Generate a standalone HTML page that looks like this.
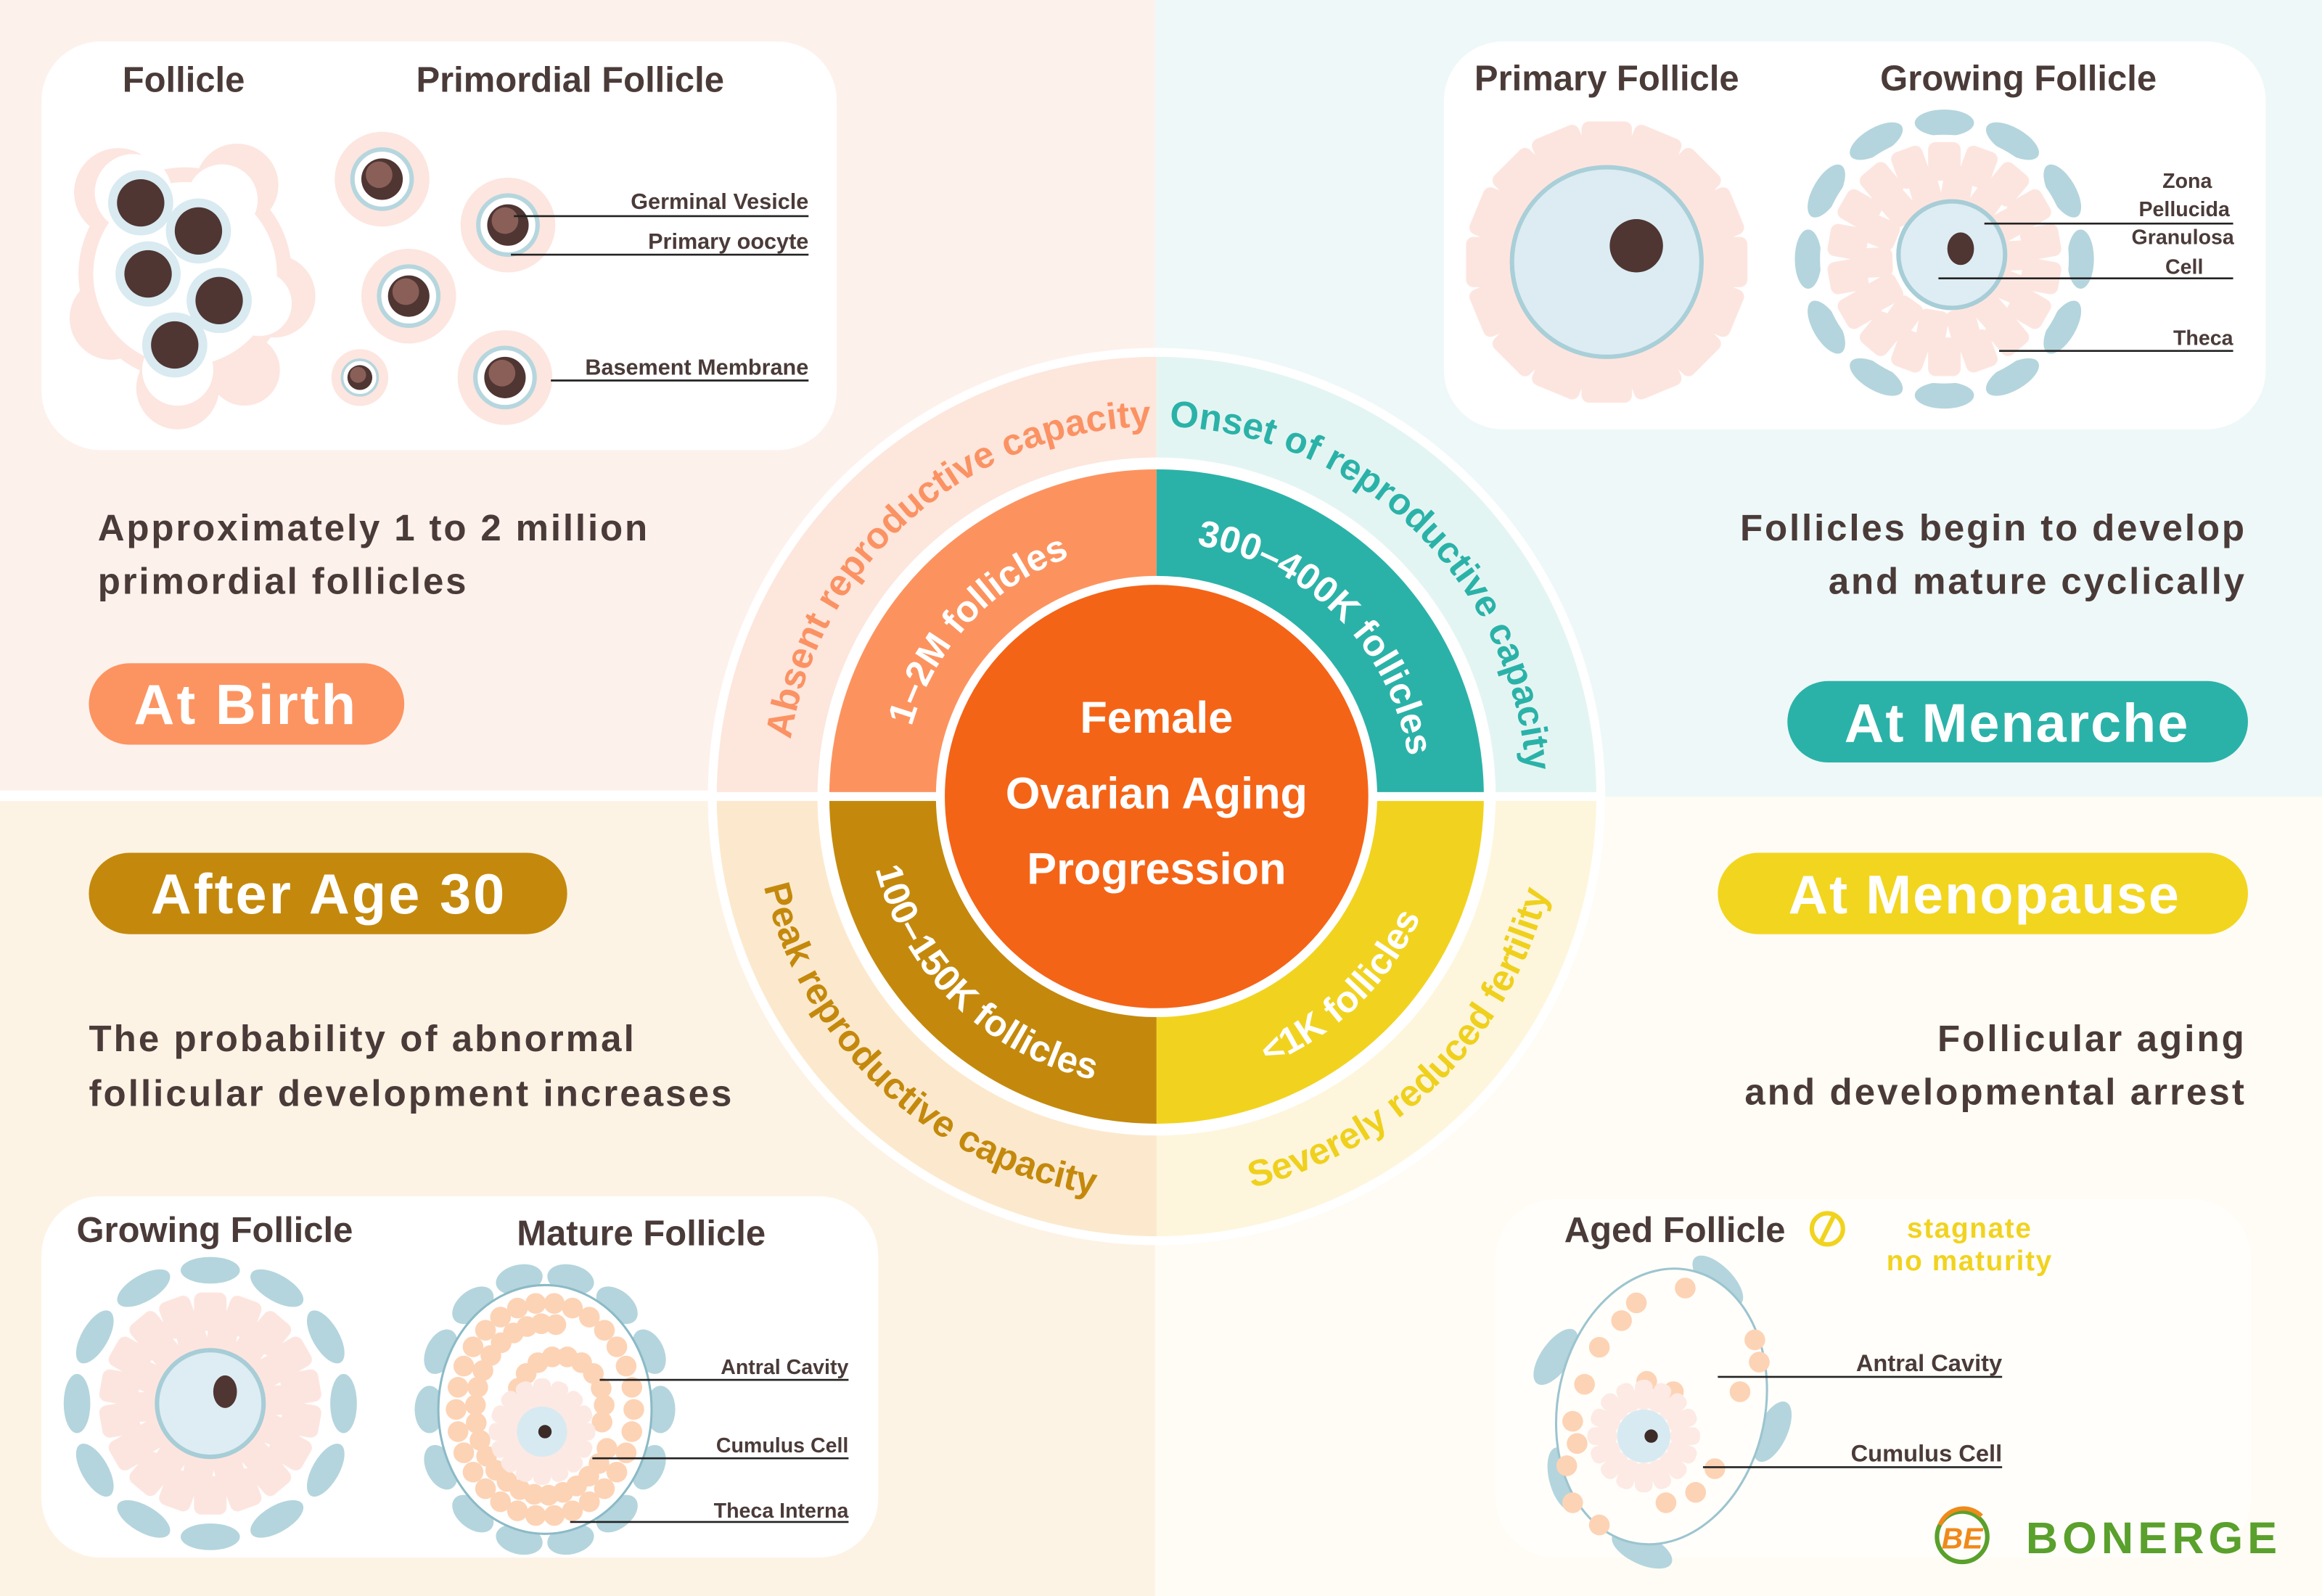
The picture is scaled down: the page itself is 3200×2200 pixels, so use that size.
<!DOCTYPE html>
<html><head><meta charset="utf-8">
<style>
html,body{margin:0;padding:0;background:#fff;}
svg{display:block;}
.t{font-family:"Liberation Sans",sans-serif;font-weight:bold;}
.n{font-family:"Liberation Sans Narrow","Liberation Sans",sans-serif;font-weight:bold;fill:#4a3b39;}
</style></head><body>
<svg id="s" width="3200" height="2200" viewBox="0 0 1568 1078" preserveAspectRatio="none" xmlns="http://www.w3.org/2000/svg">
<rect x="0" y="0" width="780" height="538" fill="#fdf1ec"/>
<rect x="780" y="0" width="788" height="538" fill="#eef8f8"/>
<rect x="0" y="538" width="780" height="540" fill="#fdf3e5"/>
<rect x="780" y="538" width="788" height="540" fill="#fefcf4"/>
<rect x="0" y="534" width="780" height="7" fill="#ffffff"/>

<rect x="28" y="28" width="537" height="276" rx="40" fill="#ffffff"/>
<rect x="975" y="28" width="555" height="262" rx="40" fill="#ffffff"/>
<rect x="28" y="808" width="565" height="244" rx="40" fill="#ffffff"/>
<rect x="1010" y="810" width="510" height="242" rx="40" fill="#fffefa"/>

<g>
<circle cx="781" cy="538" r="303" fill="#ffffff"/>
<path d="M781,538 L484,538 A297,297 0 0 1 781,241 Z" fill="#fde6dc"/>
<path d="M781,538 L781,241 A297,297 0 0 1 1078,538 Z" fill="#e3f5f3"/>
<path d="M781,538 L484,538 A297,297 0 0 0 781,835 Z" fill="#fce9cd"/>
<path d="M781,538 L1078,538 A297,297 0 0 1 781,835 Z" fill="#fdf6dc"/>
<circle cx="781" cy="538" r="229" fill="#ffffff"/>
<path d="M781,538 L560,538 A221,221 0 0 1 781,317 Z" fill="#fc935f"/>
<path d="M781,538 L781,317 A221,221 0 0 1 1002,538 Z" fill="#2bb2a8"/>
<path d="M781,538 L560,538 A221,221 0 0 0 781,759 Z" fill="#c4890c"/>
<path d="M781,538 L1002,538 A221,221 0 0 1 781,759 Z" fill="#f1d31f"/>
<rect x="481" y="535" width="600" height="6" fill="#ffffff"/>
<circle cx="781" cy="538" r="146" fill="#f46417" stroke="#ffffff" stroke-width="6"/>
<defs>
<path id="p1" d="M535.6,585.7 A250,250 0 0 1 862.4,301.6"/>
<path id="p2" d="M712.1,297.7 A250,250 0 0 1 1023.6,598.5"/>
<path id="p3" d="M516,476.8 A272,272 0 0 0 860.5,798.1"/>
<path id="p4" d="M710.6,800.7 A272,272 0 0 0 1043.7,467.6"/>
<path id="q1" d="M616.5,588.3 A172,172 0 0 1 819.7,370.4"/>
<path id="q2" d="M736.5,371.9 A172,172 0 0 1 947.1,582.5"/>
<path id="q3" d="M590.8,490.6 A196,196 0 0 0 835,726.4"/>
<path id="q4" d="M727,726.4 A196,196 0 0 0 971.2,490.6"/>
</defs>
<text class="t" font-size="25" fill="#fb9263" text-anchor="middle"><textPath href="#p1" startOffset="50%">Absent reproductive capacity</textPath></text>
<text class="t" font-size="25" fill="#2bb2a8" text-anchor="middle"><textPath href="#p2" startOffset="50%">Onset of reproductive capacity</textPath></text>
<text class="t" font-size="25" fill="#c4890c" text-anchor="middle"><textPath href="#p3" startOffset="50%">Peak reproductive capacity</textPath></text>
<text class="t" font-size="25" fill="#efd01d" text-anchor="middle"><textPath href="#p4" startOffset="50%">Severely reduced fertility</textPath></text>
<text class="t" font-size="25" fill="#ffffff" text-anchor="middle"><textPath href="#q1" startOffset="50%">1–2M follicles</textPath></text>
<text class="t" font-size="25" fill="#ffffff" text-anchor="middle"><textPath href="#q2" startOffset="50%">300–400K follicles</textPath></text>
<text class="t" font-size="25" fill="#ffffff" text-anchor="middle"><textPath href="#q3" startOffset="50%">100–150K follicles</textPath></text>
<text class="t" font-size="25" fill="#ffffff" text-anchor="middle"><textPath href="#q4" startOffset="50%">&lt;1K follicles</textPath></text>
<text class="t" font-size="30" fill="#ffffff" text-anchor="middle" x="781" y="495">Female</text>
<text class="t" font-size="30" fill="#ffffff" text-anchor="middle" x="781" y="546">Ovarian Aging</text>
<text class="t" font-size="30" fill="#ffffff" text-anchor="middle" x="781" y="597">Progression</text>
</g>

<g class="t" font-size="25" fill="#4a3b39">
<text x="66" y="365" letter-spacing="1.4">Approximately 1 to 2 million</text>
<text x="66" y="401" letter-spacing="1.4">primordial follicles</text>
<text x="60" y="710" letter-spacing="1.5">The probability of abnormal</text>
<text x="60" y="747" letter-spacing="1.5">follicular development increases</text>
<text x="1517" y="365" text-anchor="end" letter-spacing="1.4">Follicles begin to develop</text>
<text x="1517" y="401" text-anchor="end" letter-spacing="1.4">and mature cyclically</text>
<text x="1517" y="710" text-anchor="end" letter-spacing="1.5">Follicular aging</text>
<text x="1517" y="746" text-anchor="end" letter-spacing="1.5">and developmental arrest</text>
</g>

<rect x="60" y="448" width="213" height="55" rx="27.5" fill="#fc9461"/>
<text class="t" x="166" y="489" font-size="38" fill="#fff" text-anchor="middle" letter-spacing="1.5">At Birth</text>
<rect x="1207" y="460" width="311" height="55" rx="27.5" fill="#2bb2a8"/>
<text class="t" x="1362" y="501" font-size="37" fill="#fff" text-anchor="middle" letter-spacing="1">At Menarche</text>
<rect x="60" y="576" width="323" height="55" rx="27.5" fill="#c4890c"/>
<text class="t" x="222" y="617" font-size="38" fill="#fff" text-anchor="middle" letter-spacing="1.5">After Age 30</text>
<rect x="1160" y="576" width="358" height="55" rx="27.5" fill="#f2d51f"/>
<text class="t" x="1340" y="617" font-size="37" fill="#fff" text-anchor="middle" letter-spacing="1">At Menopause</text>

<g class="n" font-size="24" text-anchor="middle">
<text x="124" y="62">Follicle</text>
<text x="385" y="62">Primordial  Follicle</text>
<text x="1085" y="61">Primary Follicle</text>
<text x="1363" y="61">Growing Follicle</text>
<text x="145" y="839">Growing Follicle</text>
<text x="433" y="841">Mature Follicle</text>
<text x="1131" y="839">Aged Follicle</text>
</g>

<g id="tl">
<g fill="#fde6e0">
<circle cx="125" cy="185" r="72"/><circle cx="80" cy="130" r="30"/><circle cx="160" cy="125" r="28"/><circle cx="185" cy="200" r="28"/><circle cx="75" cy="215" r="28"/><circle cx="120" cy="262" r="28"/><circle cx="165" cy="250" r="24"/>
</g>
<g fill="#fff"><circle cx="125" cy="185" r="62"/><circle cx="90" cy="130" r="26"/><circle cx="150" cy="135" r="24"/><circle cx="175" cy="205" r="22"/><circle cx="120" cy="250" r="24"/></g>
<g fill="#d9eaf1"><circle cx="95" cy="137" r="22"/><circle cx="134" cy="156" r="22"/><circle cx="100" cy="185" r="22"/><circle cx="148" cy="203" r="22"/><circle cx="118" cy="233" r="22"/></g>
<g fill="#4f3633"><circle cx="95" cy="137" r="16"/><circle cx="134" cy="156" r="16"/><circle cx="100" cy="185" r="16"/><circle cx="148" cy="203" r="16"/><circle cx="118" cy="233" r="16"/></g>
</g>
<g id="prim"></g>
<g stroke="#222" stroke-width="1.3">
<line x1="347" y1="146" x2="546" y2="146"/><line x1="345" y1="172" x2="546" y2="172"/><line x1="372" y1="257" x2="546" y2="257"/>
</g>
<g class="n" font-size="15" text-anchor="end">
<text x="546" y="141">Germinal Vesicle</text><text x="546" y="168">Primary oocyte</text><text x="546" y="253">Basement Membrane</text>
</g>

<g id="tr"></g>
<g stroke="#222" stroke-width="1.3">
<line x1="1340" y1="151" x2="1508" y2="151"/><line x1="1309" y1="188" x2="1508" y2="188"/><line x1="1350" y1="237" x2="1508" y2="237"/>
</g>
<g class="n" font-size="14" text-anchor="middle">
<text x="1477" y="127">Zona</text><text x="1475" y="146">Pellucida</text><text x="1474" y="165">Granulosa</text><text x="1475" y="185">Cell</text>
<text x="1508" y="233" text-anchor="end">Theca</text>
</g>

<g id="bl"></g>
<g stroke="#222" stroke-width="1.3">
<line x1="405" y1="932" x2="573" y2="932"/><line x1="400" y1="985" x2="573" y2="985"/><line x1="385" y1="1028" x2="573" y2="1028"/>
</g>
<g class="n" font-size="14" text-anchor="end">
<text x="573" y="928">Antral Cavity</text><text x="573" y="981">Cumulus Cell</text><text x="573" y="1025">Theca Interna</text>
</g>

<g id="br"></g>
<g stroke="#222" stroke-width="1.3">
<line x1="1160" y1="930" x2="1352" y2="930"/><line x1="1150" y1="991" x2="1352" y2="991"/>
</g>
<g class="n" font-size="16" text-anchor="end">
<text x="1352" y="926">Antral Cavity</text><text x="1352" y="987">Cumulus Cell</text>
</g>
<circle cx="1234" cy="830" r="10.5" fill="none" stroke="#f1d31f" stroke-width="3"/>
<line x1="1229" y1="840" x2="1239" y2="820" stroke="#f1d31f" stroke-width="3"/>
<g class="t" font-size="19" fill="#f1d31f" text-anchor="middle" letter-spacing="0.8">
<text x="1330" y="836">stagnate</text><text x="1330" y="858">no maturity</text>
</g>

<circle cx="1325" cy="1038" r="17" fill="none" stroke="#5aa02c" stroke-width="3"/>
<path d="M1310,1030 A17,17 0 0 1 1338,1024" fill="none" stroke="#ef8a1b" stroke-width="3"/>
<text class="t" x="1325" y="1046" font-size="20" fill="#ef8a1b" text-anchor="middle" font-style="italic">BE</text>
<text class="t" x="1368" y="1049" font-size="30" fill="#5aa02c" letter-spacing="3">BONERGE</text>
</svg>
<script>
var NS="http://www.w3.org/2000/svg";
function el(g,tag,a){var e=document.createElementNS(NS,tag);for(var k in a)e.setAttribute(k,a[k]);g.appendChild(e);return e;}
function petals(g,cx,cy,r,n,w,h,col,off){for(var i=0;i<n;i++){var a=360*i/n+(off||0);el(g,"rect",{x:cx-w/2,y:cy-r-h/2,width:w,height:h,rx:5,fill:col,transform:"rotate("+a+" "+cx+" "+cy+")"});}}
function theca(g,cx,cy,r,n,col){for(var i=0;i<n;i++){var a=360*i/n;el(g,"ellipse",{cx:cx,cy:cy-r,rx:20,ry:9,fill:col,transform:"rotate("+a+" "+cx+" "+cy+")"});}}
var prim=document.getElementById("prim");
[[258,121,1],[343,152,1],[276,200,1],[243,255,0.6],[341,255,1]].forEach(function(p){
 var s=p[2];el(prim,"circle",{cx:p[0],cy:p[1],r:32*s,fill:"#fde6e0"});
 el(prim,"circle",{cx:p[0],cy:p[1],r:20*s,fill:"#fff",stroke:"#b6d6de","stroke-width":3*s});
 el(prim,"circle",{cx:p[0],cy:p[1],r:14*s,fill:"#4f3633"});
 el(prim,"circle",{cx:p[0]-2*s,cy:p[1]-3*s,r:9*s,fill:"#8a5f58"});
});
var tr=document.getElementById("tr");
petals(tr,1085,177,74,16,34,42,"#fde5df");
el(tr,"circle",{cx:1085,cy:177,r:64,fill:"#dcecf2",stroke:"#a9cfd8","stroke-width":3});
el(tr,"circle",{cx:1105,cy:166,r:18,fill:"#4f3633"});
theca(tr,1313,175,92,12,"#b4d5dd");
el(tr,"circle",{cx:1313,cy:175,r:84,fill:"#fff"});
petals(tr,1313,175,66,18,22,26,"#fde5df");
petals(tr,1313,175,46,14,20,22,"#fde5df",10);
el(tr,"circle",{cx:1318,cy:172,r:36,fill:"#deedf3",stroke:"#a7cdd7","stroke-width":3});
el(tr,"ellipse",{cx:1324,cy:168,rx:9,ry:11,fill:"#4f3633"});
var bl=document.getElementById("bl");
theca(bl,142,948,90,12,"#b4d5dd");
el(bl,"circle",{cx:142,cy:948,r:80,fill:"#fff"});
petals(bl,142,948,62,18,22,26,"#fde5df");
petals(bl,142,948,44,14,20,22,"#fde5df",10);
el(bl,"circle",{cx:142,cy:948,r:36,fill:"#deedf3",stroke:"#a7cdd7","stroke-width":3});
el(bl,"ellipse",{cx:152,cy:940,rx:8,ry:11,fill:"#4f3633"});
var mx=368,my=952;
for(var i=0;i<14;i++){var a=2*Math.PI*i/14;el(bl,"ellipse",{cx:mx+78*Math.cos(a),cy:my+90*Math.sin(a),rx:10,ry:16,fill:"#b4d5dd",transform:"rotate("+(a*180/Math.PI)+" "+(mx+78*Math.cos(a))+" "+(my+90*Math.sin(a))+")"});}
el(bl,"ellipse",{cx:mx,cy:my,rx:72,ry:84,fill:"#fff",stroke:"#8bbac6","stroke-width":1.5});
for(var i=0;i<30;i++){var a=2*Math.PI*i/30;el(bl,"circle",{cx:mx+60*Math.cos(a),cy:my+72*Math.sin(a),r:7,fill:"#fdd3b5"});}
for(var i=0;i<22;i++){var a=2*Math.PI*i/30+Math.PI*0.15;el(bl,"circle",{cx:mx+47*Math.cos(a),cy:my+58*Math.sin(a),r:7,fill:"#fdd3b5"});}
for(var i=0;i<12;i++){var a=Math.PI*(0.9+1.2*i/11);el(bl,"circle",{cx:mx+10+30*Math.cos(a),cy:my-2+34*Math.sin(a),r:7,fill:"#fdd3b5"});}
petals(bl,mx-2,my+15,26,16,12,20,"#fde9e3");
el(bl,"circle",{cx:mx-2,cy:my+15,r:17,fill:"#d8eaf1"});
el(bl,"circle",{cx:mx,cy:my+15,r:4.5,fill:"#3d2b28"});
var br=document.getElementById("br");var ax=1122,ay=950;
[[-60,0],[10,0],[150,0],[200,0],[100,0]].forEach(function(q){var a=q[0]*Math.PI/180;var x=ax+76*Math.cos(a),y=ay+98*Math.sin(a);el(br,"ellipse",{cx:x,cy:y,rx:10,ry:22,fill:"#b4d5dd",transform:"rotate("+(q[0]+15)+" "+x+" "+y+")"});});
el(br,"ellipse",{cx:ax,cy:ay,rx:70,ry:94,fill:"#fffefa",stroke:"#9cc4cf","stroke-width":1.5,transform:"rotate(12 "+ax+" "+ay+")"});
[[1138,870],[1105,880],[1095,892],[1080,910],[1070,935],[1062,960],[1058,990],[1062,1015],[1080,1030],[1125,1015],[1145,1008],[1158,992],[1175,940],[1188,920],[1185,905],[1112,933],[1130,940],[1065,975]].forEach(function(p){el(br,"circle",{cx:p[0],cy:p[1],r:7,fill:"#fdd3b5"});});
petals(br,1110,970,28,16,12,20,"#fdeae4");
el(br,"circle",{cx:1110,cy:970,r:18,fill:"#d8eaf1"});
el(br,"circle",{cx:1115,cy:970,r:4.5,fill:"#3d2b28"});
</script>
</body></html>
